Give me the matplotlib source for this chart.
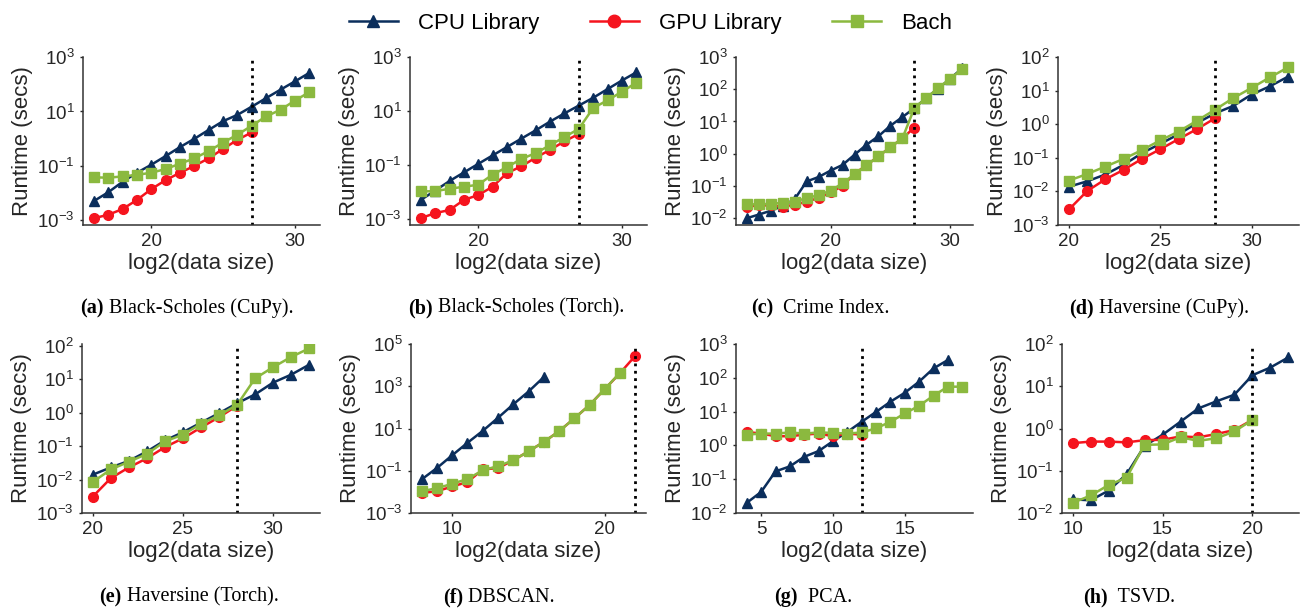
import matplotlib
matplotlib.use("Agg")
import matplotlib.pyplot as plt
from matplotlib.ticker import FixedLocator, LogFormatterSciNotation, NullLocator
from matplotlib.lines import Line2D

plt.rcParams['font.family'] = ['Liberation Sans', 'DejaVu Sans']

# (a) Black-Scholes (CuPy)
bsc_x = list(range(16, 32))
bsc_cpu = [0.0051, 0.0107, 0.026, 0.056, 0.11, 0.23, 0.49, 0.99, 2.1, 4.4, 7.5, 15, 31, 63, 127, 260]
bsc_gpu = [0.0012, 0.0016, 0.0026, 0.0056, 0.014, 0.030, 0.056, 0.10, 0.19, 0.42, 0.91, 1.7]
bsc_bach = [0.038, 0.037, 0.041, 0.047, 0.056, 0.077, 0.12, 0.19, 0.35, 0.72, 1.4, 3.0, 6.6, 11.5, 25, 51]

# (b) Black-Scholes (Torch)
bst_x = list(range(16, 32))
bst_cpu = [0.0052, 0.0115, 0.026, 0.054, 0.112, 0.23, 0.47, 0.96, 1.95, 4.1, 8.2, 16, 31, 65, 135, 270]
bst_gpu = [0.0011, 0.0017, 0.0022, 0.0052, 0.0079, 0.016, 0.051, 0.091, 0.19, 0.37, 0.76, 1.44]
bst_bach = [0.0107, 0.011, 0.0135, 0.016, 0.019, 0.045, 0.085, 0.17, 0.28, 0.55, 1.1, 2.2, 13, 25, 52, 112]

# (c) Crime Index
ci_x = list(range(13, 32))
ci_cpu = [0.010, 0.013, 0.017, 0.024, 0.039, 0.138, 0.19, 0.30, 0.45, 0.93, 1.9, 3.5, 7.4, 13.7, 26,
          54, 104, 215, 445]
ci_gpu = [0.023, 0.025, 0.025, 0.023, 0.026, 0.033, 0.042, 0.063, 0.10, 0.24, 0.44, 0.83, 1.6, 3.0, 6.5]
ci_bach = [0.027, 0.027, 0.028, 0.030, 0.033, 0.042, 0.052, 0.072, 0.12, 0.23, 0.44, 0.83, 1.6, 3.0, 26,
           54, 109, 213, 425]

# (d) Haversine (CuPy)
hc_x = list(range(20, 33))
hc_cpu = [0.0138, 0.020, 0.032, 0.062, 0.138, 0.26, 0.50, 1.07, 2.1, 3.5, 7.6, 13.4, 26]
hc_gpu = [0.0029, 0.0103, 0.023, 0.044, 0.093, 0.18, 0.36, 0.71, 1.5]
hc_bach = [0.021, 0.033, 0.055, 0.093, 0.17, 0.33, 0.60, 1.26, 2.7, 6.0, 12, 24.7, 49]

# (e) Haversine (Torch)
ht_x = list(range(20, 33))
ht_cpu = [0.014, 0.023, 0.036, 0.069, 0.147, 0.26, 0.50, 0.96, 1.9, 3.5, 7.9, 13.6, 27]
ht_gpu = [0.0031, 0.011, 0.023, 0.043, 0.093, 0.17, 0.36, 0.73, 1.6]
ht_bach = [0.0085, 0.020, 0.034, 0.058, 0.138, 0.22, 0.46, 0.83, 1.7, 10.5, 22.8, 46, 83]

# (f) DBSCAN
db_x = list(range(8, 23))
db_cpu = [0.039, 0.135, 0.54, 2.1, 7.7, 32, 139, 560, 2700]
db_gpu = [0.0089, 0.0107, 0.018, 0.029, 0.115, 0.134, 0.31, 0.83, 2.3, 7.4, 30, 129, 740, 4200, 27800]
db_bach = [0.0107, 0.015, 0.024, 0.041, 0.104, 0.167, 0.31, 0.83, 2.3, 7.4, 30, 129, 740, 4400]

# (g) PCA
pca_x = list(range(4, 20))
pca_cpu = [0.020, 0.042, 0.17, 0.24, 0.46, 0.68, 1.33, 2.5, 5.0, 9.8, 19.6, 36, 77, 190, 335]
pca_gpu = [2.5, 2.24, 1.87, 1.87, 2.08, 2.24, 1.87, 2.24, 2.08]
pca_bach = [2.08, 2.24, 2.24, 2.41, 2.24, 2.41, 2.35, 2.24, 2.41, 3.2, 5.0, 8.8, 14.9, 29.5, 54.6, 54.6]

# (h) TSVD
ts_x = list(range(10, 23))
ts_cpu = [0.021, 0.020, 0.034, 0.083, 0.39, 0.71, 1.45, 3.0, 4.4, 6.3, 18.2, 27.7, 48]
ts_gpu = [0.45, 0.49, 0.49, 0.47, 0.53, 0.54, 0.65, 0.62, 0.74, 0.92, 1.6]
ts_bach = [0.0174, 0.026, 0.046, 0.069, 0.41, 0.42, 0.62, 0.51, 0.59, 0.85, 1.6]

cpu_color = '#0b2e5c'
gpu_color = '#f5141e'
bach_color = '#8bb93f'

W, H = 1301, 609
fig = plt.figure(figsize=(W / 100, H / 100), dpi=100)

# pixel boxes: left, top, right, bottom
panels = [
    (bsc_x, bsc_cpu, bsc_gpu, bsc_bach, 27, (-3.17, 3), [-3, -1, 1, 3], [20, 30], (83, 57, 320, 225)),
    (bst_x, bst_cpu, bst_gpu, bst_bach, 27, (-3.21, 3), [-3, -1, 1, 3], [20, 30], (410, 57, 647, 225)),
    (ci_x, ci_cpu, ci_gpu, ci_bach, 27, (-2.21, 3), [-2, -1, 0, 1, 2, 3], [20, 30], (736, 57, 973, 225)),
    (hc_x, hc_cpu, hc_gpu, hc_bach, 28, (-3, 2), [-3, -2, -1, 0, 1, 2], [20, 25, 30], (1058, 57, 1299, 225)),
    (ht_x, ht_cpu, ht_gpu, ht_bach, 28, (-3, 2.05), [-3, -2, -1, 0, 1, 2], [20, 25, 30], (82, 344, 320, 513)),
    (db_x, db_cpu, db_gpu, db_bach, 22, (-3, 5), [-3, -1, 1, 3, 5], [10, 20], (411, 344, 646, 513)),
    (pca_x, pca_cpu, pca_gpu, pca_bach, 12, (-2, 3), [-2, -1, 0, 1, 2, 3], [5, 10, 15], (736, 344, 973, 513)),
    (ts_x, ts_cpu, ts_gpu, ts_bach, 20, (-2, 2), [-2, -1, 0, 1, 2], [10, 15, 20], (1062, 344, 1299, 513)),
]

for x, cpu, gpu, bach, vline, ylim, ydec, xt, box in panels:
    l, t, r, b = box
    ax = fig.add_axes([l / W, 1 - b / H, (r - l) / W, (b - t) / H])
    ax.plot(x[:len(cpu)], cpu, color=cpu_color, marker='^', ms=7.5, lw=1.8, label='CPU Library')
    ax.plot(x[:len(gpu)], gpu, color=gpu_color, marker='o', ms=7, lw=1.8, label='GPU Library')
    ax.plot(x[:len(bach)], bach, color=bach_color, marker='s', ms=7, lw=1.8, label='Bach')
    ax.axvline(vline, color='black', ls=':', lw=2)
    ax.set_yscale('log')
    ax.set_ylim(10 ** ylim[0], 10 ** ylim[1])
    ax.yaxis.set_major_locator(FixedLocator([10.0 ** d for d in ydec]))
    ax.yaxis.set_major_formatter(LogFormatterSciNotation())
    ax.yaxis.set_minor_locator(NullLocator())
    ax.set_xticks(xt)
    for s in ['top', 'right']:
        ax.spines[s].set_visible(False)
    for s in ['left', 'bottom']:
        ax.spines[s].set_color('#333333')
        ax.spines[s].set_linewidth(1.1)
    ax.tick_params(length=2, width=1, pad=4, labelsize=13.5, colors='#262626')
    ax.set_ylabel('Runtime (secs)', fontsize=16, color='#262626', labelpad=3)
    ax.set_xlabel('log2(data size)', fontsize=16, color='#262626', labelpad=2)

handles = [
    Line2D([], [], color=cpu_color, marker='^', ms=9, lw=1.8),
    Line2D([], [], color=gpu_color, marker='o', ms=9, lw=1.8),
    Line2D([], [], color=bach_color, marker='s', ms=9, lw=1.8),
]
fig.legend(handles, ['CPU Library', 'GPU Library', 'Bach'], loc='upper center',
           bbox_to_anchor=(0.5, 1.012), ncol=3, frameon=False, fontsize=16,
           handlelength=2.2, columnspacing=2.3, handletextpad=0.9)

captions = [
    (187, 308, '(a)', ' Black-Scholes (CuPy).'),
    (516, 308, '(b)', ' Black-Scholes (Torch).'),
    (820, 308, '(c)', '  Crime Index.'),
    (1159, 308, '(d)', ' Haversine (CuPy).'),
    (189, 597, '(e)', ' Haversine (Torch).'),
    (499, 597, '(f)', ' DBSCAN.'),
    (813, 597, '(g)', '  PCA.'),
    (1129, 597, '(h)', '  TSVD.'),
]
renderer = fig.canvas.get_renderer()
for cx, cy, tag, rest in captions:
    t1 = fig.text(0, 1 - cy / H, tag, family='Liberation Serif', weight='bold',
                  fontsize=14.5, va='center', ha='left')
    t2 = fig.text(0, 1 - cy / H, rest, family='Liberation Serif',
                  fontsize=14.5, va='center', ha='left')
    w1 = t1.get_window_extent(renderer).width
    w2 = t2.get_window_extent(renderer).width
    left = cx - (w1 + w2) / 2
    t1.set_x(left / W)
    t2.set_x((left + w1) / W)

fig.savefig('out.png', dpi=100)
